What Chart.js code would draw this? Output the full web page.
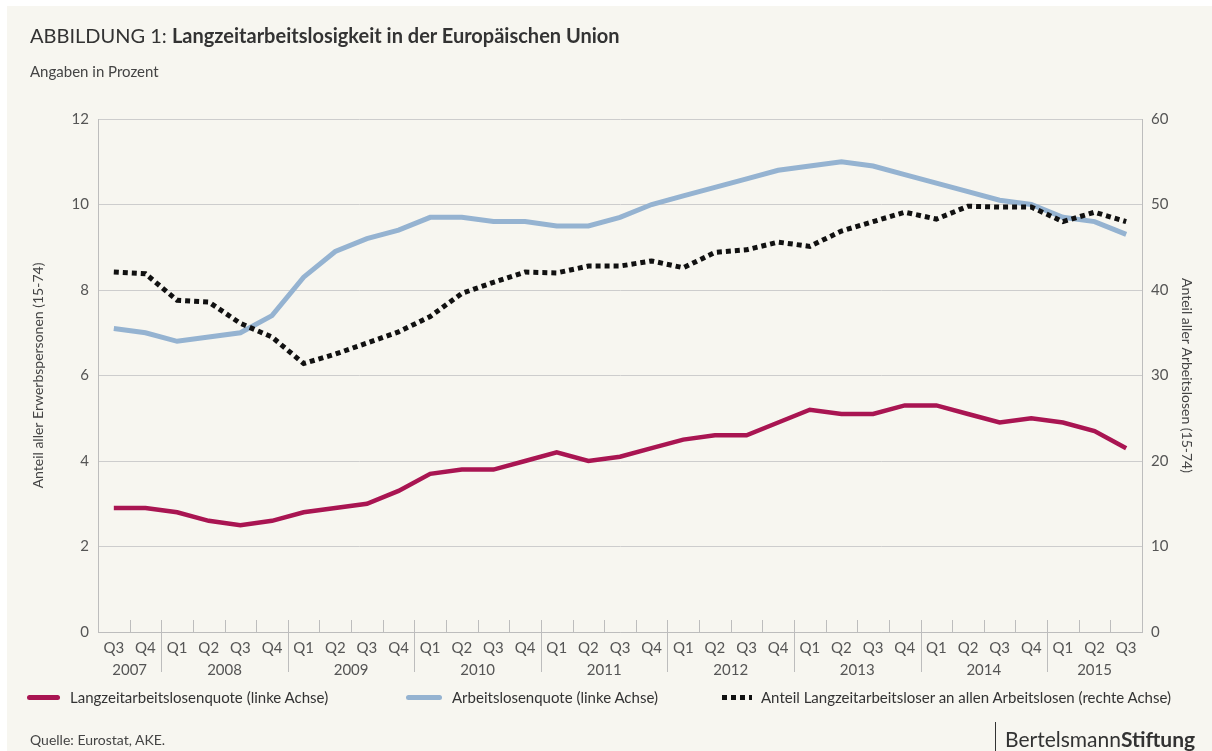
<!DOCTYPE html>
<html lang="de">
<head>
<meta charset="utf-8">
<title>Langzeitarbeitslosigkeit in der EU</title>
<script src="https://cdn.jsdelivr.net/npm/chart.js@4.4.1/dist/chart.umd.min.js"></script>
<style>
  html, body { margin: 0; padding: 0; width: 1212px; height: 751px; overflow: hidden; background: #fff; font-family: Lato, "Open Sans", sans-serif; }
  #card { position: absolute; left: 7px; top: 6px; right: 0; bottom: 0; background: #f7f6f0; }
  #chart { position: absolute; left: 0; top: 0; }
  .txt { position: absolute; color: #333; white-space: nowrap; }
  #title { left: 30px; top: 23px; font-size: 20px; line-height: 24px; }
  #title b { font-weight: 700; }
  #sub { left: 30px; top: 62px; font-size: 15px; line-height: 18px; color: #444; }
  .leg { position: absolute; top: 688px; font-size: 15px; line-height: 18px; color: #333; white-space: nowrap; }
  .sw { position: absolute; top: 7px; height: 5px; border-radius: 3px; }
  #src { left: 30px; top: 731px; font-size: 14px; line-height: 18px; color: #444; }
  #brand { left: 1005px; top: 727px; font-size: 21px; line-height: 24px; color: #333; }
  #bar { position: absolute; left: 995px; top: 722px; width: 1px; height: 29px; background: #333; }
</style>
</head>
<body>
<div id="card"></div>
<canvas id="chart" width="1212" height="751"></canvas>

<div id="title" class="txt">ABBILDUNG 1: <b>Langzeitarbeitslosigkeit in der Europäischen Union</b></div>
<div id="sub" class="txt">Angaben in Prozent</div>

<div class="leg" style="left:27px"><span class="sw" style="left:0;width:33px;background:#a91552"></span><span style="margin-left:43px">Langzeitarbeitslosenquote (linke Achse)</span></div>
<div class="leg" style="left:406px"><span class="sw" style="left:0;width:36px;background:#95b3d1"></span><span style="margin-left:46px">Arbeitslosenquote (linke Achse)</span></div>
<div class="leg" style="left:722px"><span class="sw" style="left:0;width:30px;border-radius:0;background:repeating-linear-gradient(90deg,#111 0 5px,transparent 5px 9px)"></span><span style="margin-left:39px">Anteil Langzeitarbeitsloser an allen Arbeitslosen (rechte Achse)</span></div>

<div id="src" class="txt">Quelle: Eurostat, AKE.</div>
<div id="bar"></div>
<div id="brand" class="txt">Bertelsmann<b>Stiftung</b></div>

<script>
// ---------------- DATOS ----------------
const quarters = [
  'Q3','Q4',
  'Q1','Q2','Q3','Q4',
  'Q1','Q2','Q3','Q4',
  'Q1','Q2','Q3','Q4',
  'Q1','Q2','Q3','Q4',
  'Q1','Q2','Q3','Q4',
  'Q1','Q2','Q3','Q4',
  'Q1','Q2','Q3','Q4',
  'Q1','Q2','Q3'
];
const years = ['2007','2008','2009','2010','2011','2012','2013','2014','2015'];

// Langzeitarbeitslosenquote (linke Achse)
const longTermRate = [
  2.9, 2.9,
  2.8, 2.6, 2.5, 2.6,
  2.8, 2.9, 3.0, 3.3,
  3.7, 3.8, 3.8, 4.0,
  4.2, 4.0, 4.1, 4.3,
  4.5, 4.6, 4.6, 4.9,
  5.2, 5.1, 5.1, 5.3,
  5.3, 5.1, 4.9, 5.0,
  4.9, 4.7, 4.3
];
// Arbeitslosenquote (linke Achse)
const unemploymentRate = [
  7.1, 7.0,
  6.8, 6.9, 7.0, 7.4,
  8.3, 8.9, 9.2, 9.4,
  9.7, 9.7, 9.6, 9.6,
  9.5, 9.5, 9.7, 10.0,
  10.2, 10.4, 10.6, 10.8,
  10.9, 11.0, 10.9, 10.7,
  10.5, 10.3, 10.1, 10.0,
  9.7, 9.6, 9.3
];
// Anteil Langzeitarbeitsloser an allen Arbeitslosen (rechte Achse)
const longTermShare = [
  42.1, 41.9,
  38.8, 38.6, 36.1, 34.5,
  31.4, 32.5, 33.8, 35.1,
  36.9, 39.6, 40.9, 42.1,
  42.0, 42.8, 42.8, 43.4,
  42.6, 44.4, 44.7, 45.6,
  45.1, 46.9, 48.0, 49.1,
  48.3, 49.8, 49.7, 49.7,
  48.0, 49.1, 48.0
];

const GRID = '#cdcdcd';
const AXIS = '#bdbdbd';
const TICK = '#555';

// ---------------- Ticks und Jahre ----------------
const quarterTicks = {
  id: 'quarterTicks',
  afterDraw(chart) {
    const x = chart.scales.x;
    const ctx = chart.ctx;
    const bottom = chart.chartArea.bottom;
    ctx.save();
    ctx.strokeStyle = AXIS;
    ctx.lineWidth = 1;
    for (let i = 1; i < quarters.length; i++) {
      const px = Math.round((x.getPixelForValue(i - 1) + x.getPixelForValue(i)) / 2) + 0.5;
      const newYear = quarters[i] === 'Q1';
      ctx.beginPath();
      ctx.moveTo(px, bottom - 12);
      ctx.lineTo(px, newYear ? bottom + 40 : bottom);
      ctx.stroke();
    }
    // Jahreslabels mittig unter ihren Quartalen
    ctx.fillStyle = TICK;
    ctx.font = '15px Lato';
    ctx.textAlign = 'center';
    ctx.textBaseline = 'middle';
    let yi = -1;
    const groups = [];
    quarters.forEach((q, i) => {
      if (i === 0 || q === 'Q1') { yi++; groups.push({ year: years[yi], from: i, to: i }); }
      groups[groups.length - 1].to = i;
    });
    groups.forEach(g => {
      const cx = (x.getPixelForValue(g.from) + x.getPixelForValue(g.to)) / 2;
      ctx.fillText(g.year, cx, bottom + 38);
    });
    ctx.restore();
  }
};

const ctx = document.getElementById('chart').getContext('2d');

new Chart(ctx, {
  type: 'line',
  data: {
    labels: quarters,
    datasets: [
      {
        label: 'Langzeitarbeitslosenquote (linke Achse)',
        data: longTermRate,
        yAxisID: 'y',
        borderColor: '#a91552',
        borderWidth: 4.5,
        pointRadius: 0,
        tension: 0,
        order: 2
      },
      {
        label: 'Arbeitslosenquote (linke Achse)',
        data: unemploymentRate,
        yAxisID: 'y',
        borderColor: '#95b3d1',
        borderWidth: 5,
        pointRadius: 0,
        tension: 0,
        order: 1
      },
      {
        label: 'Anteil Langzeitarbeitsloser an allen Arbeitslosen (rechte Achse)',
        data: longTermShare,
        yAxisID: 'y1',
        borderColor: '#111',
        borderWidth: 5,
        borderDash: [5, 4],
        borderCapStyle: 'butt',
        pointRadius: 0,
        tension: 0,
        order: 0
      }
    ]
  },
  options: {
    responsive: false,
    animation: false,
    layout: { padding: { left: 30, right: 17, top: 119, bottom: 59 } },
    plugins: {
      legend: { display: false },
      tooltip: { enabled: false }
    },
    scales: {
      x: {
        type: 'category',
        offset: true,
        grid: { display: false, drawTicks: false },
        border: { color: AXIS },
        ticks: { color: TICK, font: { family: 'Lato', size: 15 }, padding: 7, autoSkip: false, maxRotation: 0 },
        afterFit: s => { s.height = 60; }
      },
      y: {
        position: 'left',
        min: 0,
        max: 12,
        ticks: { stepSize: 2, color: TICK, font: { family: 'Lato', size: 15 }, padding: 9 },
        grid: { color: GRID, drawTicks: false },
        border: { color: AXIS },
        title: {
          display: true,
          text: 'Anteil aller Erwerbspersonen (15-74)',
          color: '#444',
          font: { family: 'Lato', size: 14 },
          padding: 0
        },
        afterFit: s => { s.width = 68; }
      },
      y1: {
        position: 'right',
        min: 0,
        max: 60,
        ticks: { stepSize: 10, color: TICK, font: { family: 'Lato', size: 15 }, padding: 9 },
        grid: { drawOnChartArea: false, drawTicks: false },
        border: { color: AXIS },
        title: {
          display: true,
          text: 'Anteil aller Arbeitslosen (15-74)',
          color: '#444',
          font: { family: 'Lato', size: 14 },
          padding: 0
        },
        afterFit: s => { s.width = 53; }
      }
    }
  },
  plugins: [quarterTicks]
});
</script>
</body>
</html>
